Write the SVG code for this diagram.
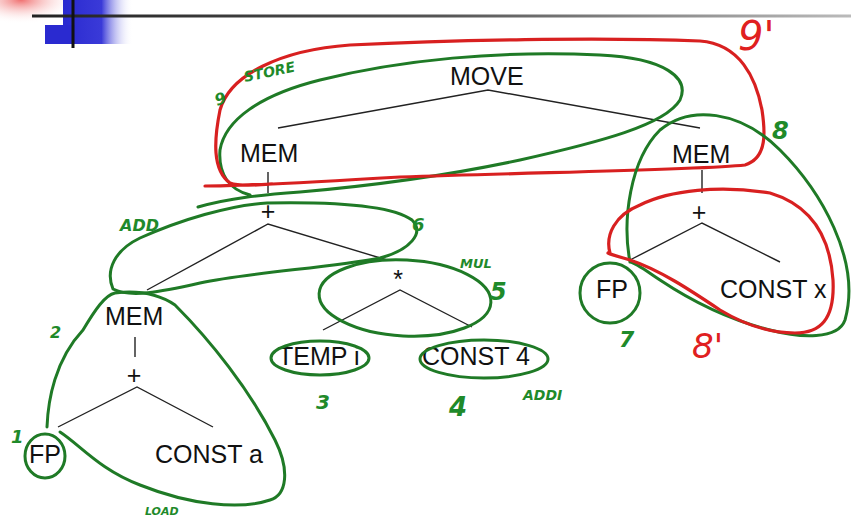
<svg xmlns="http://www.w3.org/2000/svg" width="851" height="520" viewBox="0 0 851 520">
<defs>
<linearGradient id="blueFade" x1="0" y1="0" x2="1" y2="0">
<stop offset="0" stop-color="#2a2ad0"/>
<stop offset="0.55" stop-color="#3a3ad8"/>
<stop offset="1" stop-color="#ffffff" stop-opacity="0"/>
</linearGradient>
<radialGradient id="redFade" cx="0.3" cy="0" r="0.8">
<stop offset="0" stop-color="#f07070"/>
<stop offset="1" stop-color="#ffffff" stop-opacity="0"/>
</radialGradient>
<linearGradient id="ruleFade" gradientUnits="userSpaceOnUse" x1="32" y1="0" x2="851" y2="0">
<stop offset="0" stop-color="#222"/>
<stop offset="0.5" stop-color="#555"/>
<stop offset="1" stop-color="#bbb"/>
</linearGradient>
<style>
.t{font-family:"Liberation Sans",Arial,sans-serif;font-size:25px;fill:#111}
.e{stroke:#222;stroke-width:1.4;fill:none}
.g{stroke:#1f7a26;stroke-width:3;fill:none;stroke-linecap:round}
.r{stroke:#d82020;stroke-width:3.2;fill:none;stroke-linecap:round}
.hg{font-family:"DejaVu Sans",sans-serif;font-style:oblique;font-weight:bold;fill:#1f8a2a}
.hr{font-family:"DejaVu Sans",sans-serif;font-style:oblique;fill:#e02020}
</style>
</defs>
<rect width="851" height="520" fill="#fff"/>
<g id="header">
<rect x="0" y="0" width="70" height="30" fill="url(#redFade)"/>
<rect x="63" y="0" width="70" height="44" fill="url(#blueFade)"/>
<rect x="45" y="25" width="30" height="19" fill="#2a2ad0"/>
<rect x="32" y="14.5" width="819" height="3" fill="url(#ruleFade)"/>
<line x1="73" y1="0" x2="73" y2="48" stroke="#111" stroke-width="3"/>
</g>
<g id="connectors">
<polyline class="e" points="278,128 488,90 700,128"/>
<line class="e" x1="268" y1="172" x2="268" y2="193"/>
<polyline class="e" points="147,290 268,224 387,260"/>
<polyline class="e" points="323,330 400,290 472,327"/>
<line class="e" x1="702" y1="170" x2="702" y2="193"/>
<polyline class="e" points="630,260 702,223 780,262"/>
<line class="e" x1="135" y1="337" x2="135" y2="357"/>
<polyline class="e" points="58,427 137,387 213,427"/>
</g>
<g id="n-move"><text class="t" x="450" y="85">MOVE</text></g>
<g id="n-mem1"><text class="t" x="240" y="162">MEM</text></g>
<g id="n-mem2"><text class="t" x="672" y="163">MEM</text></g>
<g id="n-plus1"><text class="t" x="268" y="220" text-anchor="middle">+</text></g>
<g id="n-plus2"><text class="t" x="699" y="221" text-anchor="middle">+</text></g>
<g id="n-mul"><text class="t" x="398" y="288" text-anchor="middle">*</text></g>
<g id="n-mem3"><text class="t" x="105" y="325">MEM</text></g>
<g id="n-plus3"><text class="t" x="134" y="384" text-anchor="middle">+</text></g>
<g id="n-fp1"><text class="t" x="29" y="463">FP</text></g>
<g id="n-consta"><text class="t" x="155" y="463">CONST a</text></g>
<g id="n-tempi"><text class="t" x="278" y="365">TEMP i</text></g>
<g id="n-const4"><text class="t" x="422" y="365">CONST 4</text></g>
<g id="n-fp2"><text class="t" x="596" y="298">FP</text></g>
<g id="n-constx"><text class="t" x="720" y="298">CONST x</text></g>
<g id="annotations">
<path class="g" d="M198,207 C230,198 260,195 300,192 C380,185 450,175 520,160 C600,142 665,125 680,100 C690,78 665,58 600,55 C500,50 400,60 320,80 C260,95 225,120 220,150 C218,175 230,190 250,195"/>
<path class="r" d="M205,186 C240,186 300,183 400,177 C550,172 700,170 745,165 C768,158 765,130 762,110 C756,78 740,44 700,41 C600,37 450,40 350,45 C280,50 230,75 220,110 C214,140 212,170 230,183 C240,187 260,185 272,184"/>
<path class="g" d="M267,203 C320,202 390,204 412,220 C425,233 410,250 380,258 C330,268 250,272 200,283 C160,292 130,298 113,289 C105,270 115,250 140,238 C180,220 230,205 267,203"/>
<ellipse class="g" cx="405" cy="298" rx="86" ry="38" transform="rotate(3 405 298)"/>
<ellipse class="g" cx="320" cy="358" rx="49" ry="17"/>
<ellipse class="g" cx="484" cy="359" rx="64" ry="19"/>
<path class="g" d="M47,427 C48,400 55,360 83,330 C95,310 105,295 115,293 C140,290 160,295 175,305 C210,340 250,390 275,440 C290,470 287,495 270,500 C240,510 190,505 140,485 C100,470 80,445 60,432"/>
<ellipse class="g" cx="45" cy="456" rx="20" ry="22"/>
<path class="g" d="M630,262 C622,220 630,160 660,130 C690,105 740,110 780,150 C820,190 862,260 845,320 C838,340 800,338 770,330 C730,320 690,300 660,280 C645,270 636,263 630,262"/>
<ellipse class="g" cx="610" cy="293" rx="30" ry="30"/>
<path class="r" d="M610,253 C605,235 615,215 640,205 C670,190 720,185 770,193 C810,205 830,235 833,280 C835,320 820,333 795,333 C770,333 745,325 720,310 C690,290 660,270 630,260 C620,257 612,255 608,253"/>
<text class="hg" x="245" y="82" font-size="14" transform="rotate(-12 245 82)">STORE</text>
<text class="hg" x="217" y="106" font-size="16" transform="rotate(-20 217 106)">9</text>
<text class="hr" x="738" y="50" font-size="40">9'</text>
<text class="hg" x="772" y="139" font-size="24">8</text>
<text class="hr" x="692" y="358" font-size="34">8'</text>
<text class="hg" x="619" y="347" font-size="22">7</text>
<text class="hg" x="120" y="231" font-size="16">ADD</text>
<text class="hg" x="412" y="231" font-size="18">6</text>
<text class="hg" x="460" y="268" font-size="13">MUL</text>
<text class="hg" x="490" y="300" font-size="24">5</text>
<text class="hg" x="50" y="338" font-size="16">2</text>
<text class="hg" x="11" y="443" font-size="18">1</text>
<text class="hg" x="316" y="409" font-size="20">3</text>
<text class="hg" x="449" y="416" font-size="26">4</text>
<text class="hg" x="523" y="400" font-size="14">ADDI</text>
<text class="hg" x="145" y="515" font-size="11">LOAD</text>
</g>
</svg>
